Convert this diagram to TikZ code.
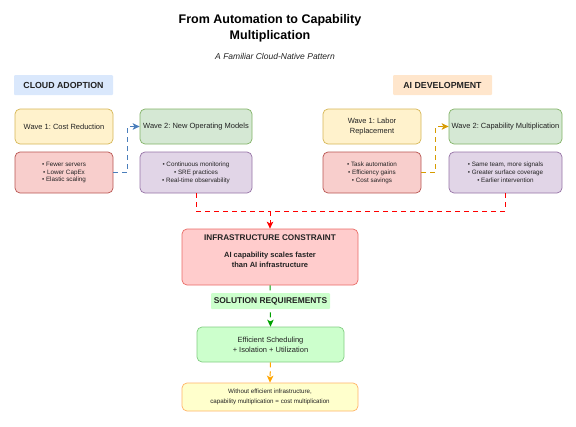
\documentclass[tikz,border=0pt]{standalone}
\usepackage{fontspec}
\setmainfont{Liberation Sans}
\usetikzlibrary{arrows.meta,calc}
\frenchspacing
\definecolor{textc}{HTML}{222222}
\definecolor{w1f}{HTML}{FFF2CC}\definecolor{w1d}{HTML}{D6B656}
\definecolor{w2f}{HTML}{D5E8D4}\definecolor{w2d}{HTML}{82B366}
\definecolor{rf}{HTML}{F8CECC}\definecolor{rd}{HTML}{B85450}
\definecolor{pf}{HTML}{E1D5E7}\definecolor{pd}{HTML}{9673A6}
\definecolor{cloudf}{HTML}{DAE8FC}\definecolor{aif}{HTML}{FFE6CC}
\definecolor{inff}{HTML}{FFCCCC}\definecolor{infd}{HTML}{EA6B66}
\definecolor{effF}{HTML}{CCFFCC}\definecolor{effD}{HTML}{82CC82}
\definecolor{finf}{HTML}{FFFFCC}\definecolor{find}{HTML}{FFB366}
\definecolor{bluearr}{HTML}{4A7EBB}\definecolor{orarr}{HTML}{D79B00}
\definecolor{redarr}{HTML}{FF0000}\definecolor{grarr}{HTML}{00A000}
\definecolor{yarr}{HTML}{FFA500}
\begin{document}
\begin{tikzpicture}[x=1pt,y=-1pt,
  box/.style={draw, rounded corners=5pt, line width=0.7pt, align=center, inner sep=0pt, text=textc},
  wavea/.style={box, fill=w1f, draw=w1d, minimum height=35pt, font=\fontsize{7.5}{10}\selectfont},
  waveb/.style={box, fill=w2f, draw=w2d, minimum height=35pt, font=\fontsize{7.5}{10}\selectfont},
  bula/.style={box, fill=rf, draw=rd, minimum height=41pt, font=\fontsize{6.3}{7.9}\selectfont},
  bulb/.style={box, fill=pf, draw=pd, minimum height=41pt, font=\fontsize{6.3}{7.9}\selectfont},
  hdr/.style={inner sep=0pt, rounded corners=1pt, minimum height=20pt, font=\bfseries\fontsize{8.8}{10}\selectfont, text=textc},
  darrow/.style={line width=1pt, dash pattern=on 5pt off 4pt, -{Stealth[length=7pt,width=6.5pt,inset=1.8pt]}},
  dline/.style={line width=1pt, dash pattern=on 5pt off 4pt}
]
\useasboundingbox (0,0) rectangle (576,426);
% title
\node[font=\bfseries\fontsize{12.5}{16}\selectfont, align=center, text=black] (title) at (270,28) {From Automation to Capability\\Multiplication};
\node[font=\itshape\fontsize{8.5}{10}\selectfont, text=textc] (sub) at (275,56) {A Familiar Cloud-Native Pattern};
% headers
\node[hdr, fill=cloudf, minimum width=99pt] (cloud) at (63.5,85) {CLOUD ADOPTION};
\node[hdr, fill=aif, minimum width=99pt] (aidev) at (442.5,85) {AI DEVELOPMENT};
% cloud column
\node[wavea, minimum width=98pt] (c1) at (64,126.5) {Wave 1: Cost Reduction};
\node[waveb, minimum width=112pt] (c2) at (196,126.5) {Wave 2: New Operating Models};
\node[bula, minimum width=98pt] (c3) at (64,172.5) {• Fewer servers\\• Lower CapEx\\• Elastic scaling};
\node[bulb, minimum width=112pt] (c4) at (196,172.5) {• Continuous monitoring\\• SRE practices\\• Real-time observability};
% ai column
\node[wavea, minimum width=98pt] (a1) at (372,126.5) {Wave 1: Labor\\Replacement};
\node[waveb, minimum width=113pt] (a2) at (505.5,126.5) {Wave 2: Capability Multiplication};
\node[bula, minimum width=98pt] (a3) at (372,172.5) {• Task automation\\• Efficiency gains\\• Cost savings};
\node[bulb, minimum width=113pt] (a4) at (505.5,172.5) {• Same team, more signals\\• Greater surface coverage\\• Earlier intervention};
% constraint
\node[box, fill=inff, draw=infd, minimum width=176pt, minimum height=56pt] (infra) at (270,257) {};
\node[font=\bfseries\fontsize{8.2}{10}\selectfont, text=textc] (infT) at ($(infra.north)+(0,9)$) {INFRASTRUCTURE CONSTRAINT};
\node[font=\bfseries\fontsize{7.5}{10}\selectfont, align=center, text=textc] (infB) at ($(infra.north)+(0,31)$) {AI capability scales faster\\than AI infrastructure};
\node[box, fill=effF, draw=effD, minimum width=147pt, minimum height=35pt, font=\fontsize{7.5}{10}\selectfont] (eff) at (270.5,344.5) {Efficient Scheduling\\+ Isolation + Utilization};
\node[box, fill=finf, draw=find, minimum width=176pt, minimum height=28pt, font=\fontsize{6.2}{9.5}\selectfont] (fin) at (270,397) {Without efficient infrastructure,\\capability multiplication = cost multiplication};
% connectors
\draw[darrow, bluearr] (c3.east) -- ++(14,0) |- (c2.west);
\draw[darrow, orarr] (a3.east) -- ++(14,0) |- (a2.west);
\coordinate (m) at (270,211);
\draw[dline, redarr] (c4.south) |- (m);
\draw[dline, redarr] (a4.south) |- (m);
\draw[darrow, redarr] (m) -- (infra.north);
\draw[darrow, grarr] (infra.south) -- (eff.north);
\node[hdr, fill=effF, minimum width=119pt, minimum height=16pt, font=\bfseries\fontsize{8.4}{10}\selectfont] (sol) at (270.5,301) {SOLUTION REQUIREMENTS};
\draw[darrow, yarr] (eff.south) -- (fin.north);
\end{tikzpicture}
\end{document}
